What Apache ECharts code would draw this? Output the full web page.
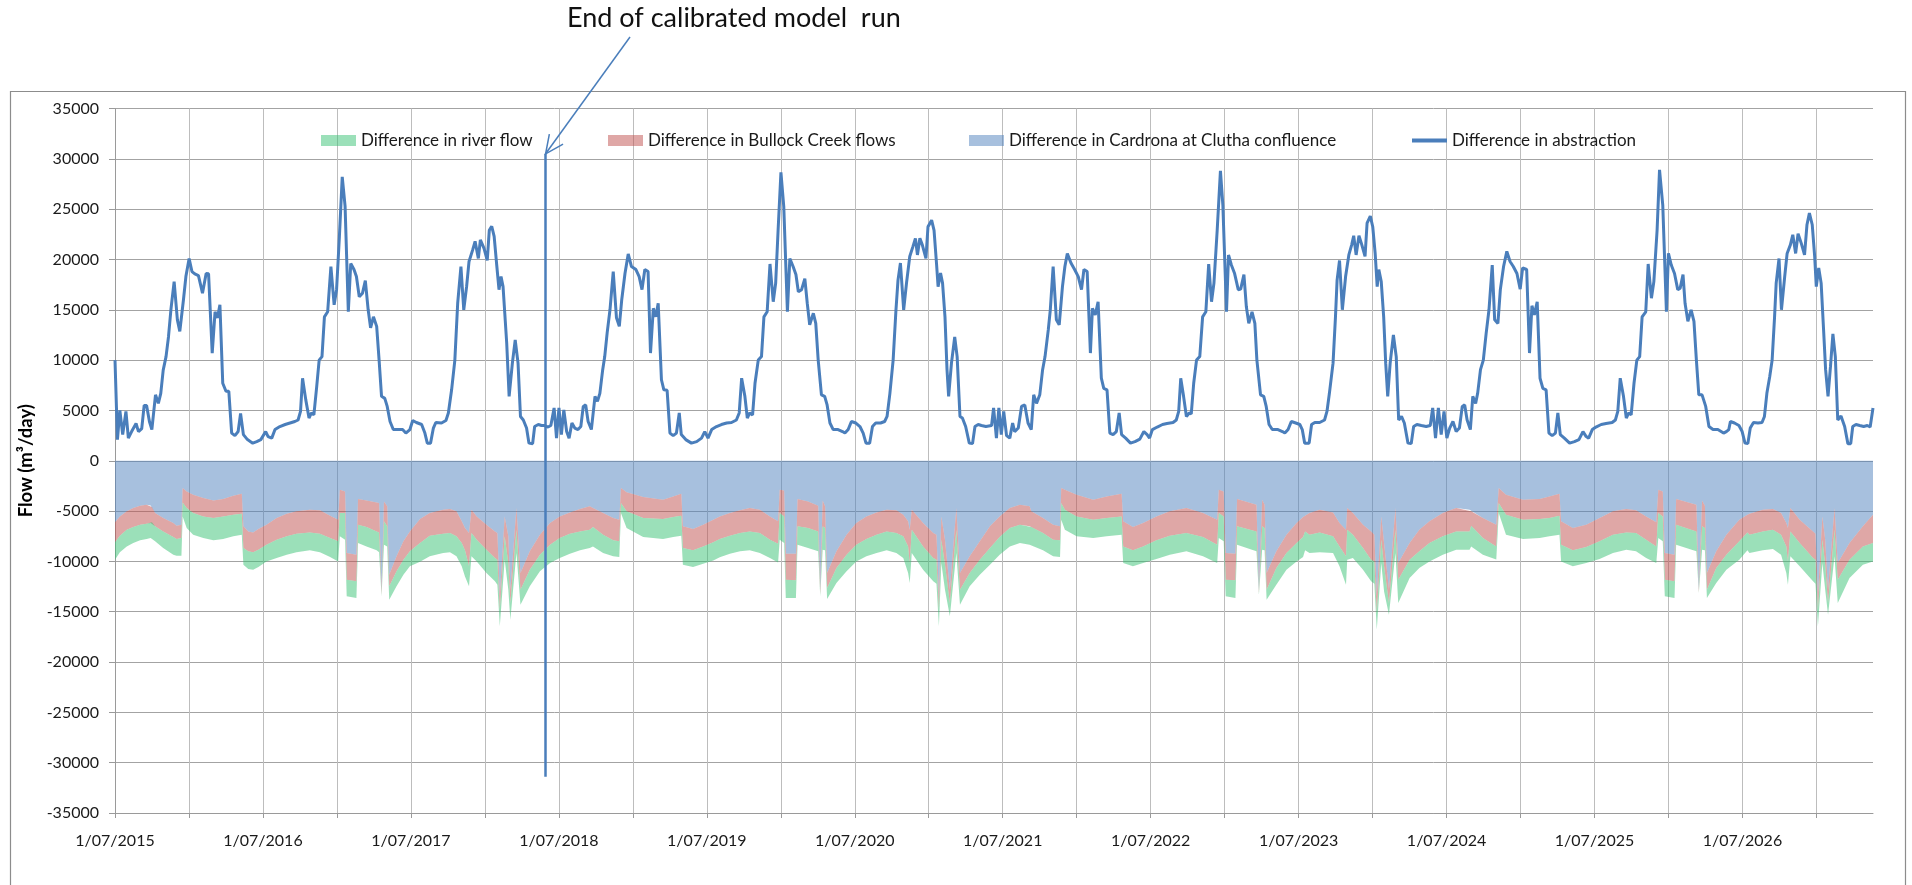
<!DOCTYPE html>
<html>
<head>
<meta charset="utf-8">
<title>Flow differences</title>
<script src="https://cdn.jsdelivr.net/npm/echarts@6/dist/echarts.min.js"></script>
<style>
  html, body { margin: 0; padding: 0; background: #fff; }
  #chart { width: 1912px; height: 885px; }
</style>
</head>
<body>
<div id="chart"></div>
<script>
// x values are days counted from 1/07/2015
const yearLabels = ['1/07/2015','1/07/2016','1/07/2017','1/07/2018','1/07/2019','1/07/2020',
  '1/07/2021','1/07/2022','1/07/2023','1/07/2024','1/07/2025','1/07/2026'];

const seriesNames = ['Difference in river flow', 'Difference in Bullock Creek flows',
  'Difference in Cardrona at Clutha confluence', 'Difference in abstraction'];

// Sample days shared by the three stacked flow series
const areaDays = [
  0,12,29,45,62,78,88,91,99,119,
  144,152,164,167,177,193,218,243,267,292,
  313,317,329,341,354,374,399,424,448,481,
  506,531,551,555,568,572,596,600,621,646,
  652,658,664,672,677,695,712,728,753,777,
  810,827,843,856,864,874,880,893,917,938,
  944,950,962,971,976,991,1001,1024,1049,1074,
  1098,1123,1148,1172,1180,1205,1230,1245,1249,1263,
  1304,1353,1378,1398,1402,1427,1452,1477,1493,1518,
  1543,1567,1592,1617,1637,1641,1652,1656,1681,1685,
  1711,1736,1741,1747,1753,1758,1781,1806,1830,1855,
  1880,1905,1929,1946,1958,1962,1967,1995,2020,2028,
  2034,2040,2049,2061,2077,2086,2110,2135,2160,2184,
  2209,2234,2258,2262,2291,2316,2333,2336,2345,2374,
  2415,2448,2485,2489,2513,2538,2571,2604,2645,2686,
  2721,2725,2737,2742,2766,2770,2818,2824,2832,2838,
  2843,2867,2892,2917,2933,2938,2949,2974,3007,3023,
  3039,3042,3056,3081,3101,3109,3115,3126,3133,3145,
  3161,3168,3196,3220,3245,3278,3311,3344,3348,3377,
  3410,3416,3434,3476,3517,3541,3566,3570,3599,3632,
  3665,3698,3731,3755,3780,3805,3810,3821,3826,3850,
  3854,3904,3910,3918,3925,3930,3953,3978,4010,4030,
  4035,4068,4093,4113,4126,4130,4136,4159,4192,4198,
  4204,4215,4222,4229,4245,4253,4282,4315,4340
];

// Difference in Cardrona at Clutha confluence (m3/day)
const cardrona = [
  -6120,-5530,-5030,-4700,-4470,-4370,-4440,-4600,-5200,-5690,
  -6190,-6450,-6360,-2710,-3050,-3380,-3710,-3940,-3810,-3480,
  -3280,-6520,-7020,-7120,-6790,-6360,-5690,-5260,-5030,-4870,
  -4930,-5460,-5860,-2880,-3050,-9170,-9330,-3810,-3940,-4140,
  -4200,-12810,-4040,-4530,-11320,-9500,-8010,-7020,-5790,-5200,
  -4870,-4800,-5030,-6020,-6690,-7180,-4870,-5530,-6360,-7020,
  -7180,-13470,-5530,-7510,-12810,-4700,-11150,-9000,-7350,-6190,
  -5530,-5130,-4800,-4530,-4700,-5200,-5690,-5860,-2710,-3140,
  -3610,-3870,-3540,-3280,-6520,-6790,-6360,-5860,-5530,-5200,
  -4930,-4700,-4870,-5530,-6020,-2880,-2950,-9230,-9230,-3810,
  -4040,-4470,-12810,-3940,-4530,-11150,-9000,-7350,-6190,-5530,
  -5130,-4870,-4930,-5360,-6020,-6850,-4870,-6190,-7180,-7350,
  -13470,-5530,-7840,-12810,-4700,-11150,-9500,-8010,-6520,-5530,
  -4700,-4370,-4530,-5030,-5690,-6360,-6520,-2710,-2880,-3380,
  -3870,-3540,-3280,-6020,-6590,-6190,-5530,-5030,-4700,-5200,
  -5860,-2880,-3050,-9170,-9230,-3810,-4370,-12810,-3870,-4370,
  -11150,-9000,-7350,-6190,-5590,-5460,-5200,-4870,-5130,-6190,
  -6850,-4700,-5200,-6360,-7020,-7350,-13470,-5530,-8180,-12810,
  -4700,-10160,-8180,-6850,-6020,-5200,-4700,-4870,-5030,-5690,
  -6360,-2710,-3380,-3870,-3810,-3540,-3280,-6020,-6690,-6360,
  -5690,-5030,-4800,-4930,-5530,-6120,-2880,-3050,-9170,-9330,
  -3810,-4370,-12810,-3940,-4470,-11150,-9000,-7350,-5860,-5360,
  -5260,-4870,-4800,-5200,-6190,-6690,-4700,-5860,-7020,-7250,
  -13470,-5530,-7840,-12810,-4700,-10160,-8180,-6520,-5360
];

// Difference in Bullock Creek flows (m3/day)
const bullock = [
  -1990,-1920,-1820,-1890,-1890,-1890,-1750,-1500,-1320,-1330,
  -1390,-1330,-1320,-1430,-1650,-1820,-1820,-1750,-1720,-1880,
  -1980,-2150,-1980,-1980,-2050,-1980,-2150,-2250,-2220,-2250,
  -2320,-2220,-2150,-2320,-2150,-2650,-2650,-2550,-2650,-2880,
  -2920,-500,-1980,-1990,-1160,-1490,-1820,-1980,-2390,-2250,
  -2380,-2380,-2480,-2160,-2210,-3310,-2310,-2310,-2480,-2650,
  -2650,-1330,-1980,-2650,-1320,-2150,-1660,-1820,-1980,-2150,
  -2150,-2120,-2220,-2320,-1890,-2150,-2220,-2150,-1490,-1890,
  -2080,-1920,-2050,-2180,-2150,-2110,-2150,-2250,-2250,-2250,
  -2250,-2320,-2310,-2310,-2220,-2320,-2580,-2590,-2650,-2710,
  -2650,-2550,-500,-2580,-2160,-1490,-1660,-1980,-2150,-2250,
  -2220,-2150,-2250,-2150,-2490,-3310,-1980,-2320,-2490,-2480,
  -1330,-2310,-2490,-1320,-2150,-1660,-1650,-1820,-2150,-2050,
  -1990,-1990,-1990,-1560,-1490,-1480,-1390,-1490,-1990,-2150,
  -1990,-2150,-2250,-2490,-2310,-2320,-2380,-2420,-2480,-2380,
  -2480,-2320,-2480,-2650,-2650,-2710,-2650,-330,-2650,-2320,
  -1660,-1660,-1820,-1990,-1990,-1560,-2150,-2250,-2380,-2320,
  -2650,-2150,-2150,-2310,-2810,-2650,-1660,-2310,-2310,-1320,
  -2150,-1660,-1650,-2150,-2160,-2310,-2320,-2150,-1420,-1990,
  -2150,-1490,-1980,-1990,-1980,-2150,-2180,-2320,-2210,-2210,
  -2320,-2320,-2320,-2250,-2310,-2390,-2320,-2480,-2650,-2650,
  -2550,-2650,-270,-2580,-2220,-1660,-1660,-1980,-2150,-1760,
  -2090,-2150,-2050,-2150,-2320,-3310,-2320,-2320,-2650,-2580,
  -1330,-2310,-2490,-1320,-2150,-1660,-1650,-1990,-2820
];

// Difference in river flow (m3/day)
const riverFlow = [
  -1720,-1650,-1660,-1590,-1550,-1520,-1490,-1500,-1490,-1650,
  -1750,-1650,-1750,-1390,-1990,-2150,-2150,-2220,-2250,-2150,
  -2090,-1660,-1760,-1720,-1720,-1660,-1830,-1820,-1850,-1780,
  -1850,-1890,-1990,-2310,-2640,-1650,-1660,-1820,-1920,-1880,
  -1980,-160,-2320,-1990,-1320,-1490,-1490,-1490,-1850,-2050,
  -1920,-1920,-1990,-2310,-2590,-1990,-2320,-2160,-2310,-2310,
  -2480,-1650,-2320,-2650,-1660,-2320,-1490,-1660,-1660,-1820,
  -1990,-1980,-1880,-1820,-1920,-1820,-1590,-1560,-1000,-1660,
  -1890,-1990,-1990,-1990,-1660,-1660,-1720,-1790,-1820,-1780,
  -1820,-1880,-1990,-1830,-1860,-2640,-2650,-1820,-1760,-1820,
  -1980,-1980,-160,-2320,-2210,-1100,-1490,-1660,-1660,-1720,
  -1820,-1880,-1990,-2160,-2640,-1990,-2320,-2310,-2310,-2390,
  -1650,-2320,-2480,-1330,-2320,-1490,-1330,-1490,-1660,-1750,
  -1820,-1820,-1820,-1920,-1720,-1660,-1660,-1660,-1980,-1980,
  -1820,-1820,-1820,-1650,-1590,-1650,-1850,-1880,-1820,-1920,
  -1820,-2480,-2480,-1650,-1760,-1820,-1980,-170,-2320,-2210,
  -990,-1650,-1650,-1820,-1990,-1880,-1820,-1980,-1660,-1980,
  -2810,-2980,-2320,-2150,-2150,-2220,-1650,-2320,-2490,-1160,
  -2320,-2310,-1820,-1660,-1820,-1820,-1820,-1820,-2060,-1650,
  -1300,-1000,-1990,-1920,-1890,-1820,-1890,-1660,-1590,-1590,
  -1750,-1820,-1720,-1820,-1830,-1650,-2480,-2480,-1650,-1660,
  -1980,-1980,-60,-2320,-2210,-830,-1490,-1490,-1820,-1780,
  -1820,-1880,-1920,-1980,-2640,-2310,-2480,-2310,-2310,-2390,
  -1650,-2320,-2480,-1160,-2650,-2310,-1820,-1820,-1820
];

// Difference in abstraction (m3/day): [day, value]
const abstraction = [
  [0,10000],[6,2100],[12,5000],[19,2600],[27,4900],[33,2250],[41,2900],[52,3700],[58,2900],[66,3200],
  [72,5500],[78,5500],[85,3900],[91,3100],[100,6550],[107,5700],[113,6700],[119,9000],[126,10350],[132,12300],
  [138,15000],[146,17800],[154,14000],[160,12850],[169,16000],[175,18300],[183,20100],[190,18800],[197,18570],[206,18400],
  [216,16650],[225,18600],[231,18570],[240,10700],[247,14800],[253,14200],[259,15500],[266,7700],[274,6900],[281,6900],
  [288,2750],[296,2500],[304,2900],[310,4700],[317,2600],[327,2100],[340,1750],[350,1900],[360,2100],[372,2900],
  [378,2400],[387,2250],[395,3100],[407,3400],[420,3600],[432,3750],[444,3900],[452,4050],[458,4900],[463,8200],
  [471,6050],[479,4250],[485,4750],[491,4550],[498,7400],[504,10000],[511,10350],[517,14300],[525,14800],[533,19300],
  [541,15500],[547,17000],[554,22300],[561,28200],[568,25300],[576,14800],[582,19600],[590,19000],[596,18300],[603,16300],
  [611,16650],[618,17900],[625,15000],[631,13200],[638,14300],[646,13350],[652,10000],[658,6400],[666,6200],[672,5400],
  [679,3900],[687,3100],[699,3100],[710,3100],[718,2750],[728,3100],[735,4000],[744,3800],[757,3600],[765,2750],
  [771,1750],[779,1750],[786,3250],[792,3800],[806,3750],[817,4000],[823,4750],[831,7050],[839,10000],[846,15650],
  [854,19300],[861,15000],[868,17300],[874,19800],[883,20950],[889,21800],[897,20100],[902,21950],[911,21100],[919,19900],
  [924,22900],[930,23300],[936,22300],[942,19600],[948,17000],[953,18300],[958,17300],[967,11700],[973,6400],[981,9700],
  [988,12000],[995,9700],[1001,4400],[1008,4050],[1016,3250],[1022,1750],[1031,1700],[1036,3400],[1045,3600],[1053,3500],
  [1061,3500],[1069,3350],[1076,3500],[1084,5250],[1090,2250],[1096,5250],[1102,2600],[1108,5050],[1115,2900],[1121,2250],
  [1128,3750],[1135,3250],[1143,3100],[1150,3400],[1156,5400],[1162,5550],[1168,3900],[1176,3100],[1185,6400],[1191,5900],
  [1197,6700],[1204,9050],[1209,10350],[1215,12700],[1222,15000],[1230,18800],[1238,14200],[1245,13350],[1251,16000],[1259,18600],
  [1267,20550],[1275,19300],[1286,19000],[1294,18300],[1301,17000],[1308,19000],[1316,18800],[1322,10700],[1329,15150],[1335,14300],
  [1341,15650],[1349,8050],[1355,7050],[1363,7000],[1370,2750],[1378,2500],[1386,2750],[1393,4750],[1398,2600],[1409,2100],
  [1423,1750],[1436,1900],[1448,2250],[1456,2900],[1464,2250],[1473,3100],[1485,3400],[1497,3600],[1510,3750],[1522,3800],
  [1534,4050],[1541,4750],[1547,8200],[1555,6400],[1561,4250],[1567,4750],[1574,4550],[1580,7700],[1588,10000],[1596,10350],
  [1602,14300],[1610,14800],[1617,19550],[1625,15800],[1631,17650],[1637,22900],[1644,28650],[1651,25250],[1660,14800],[1666,20100],
  [1674,19300],[1681,18500],[1687,16800],[1695,17000],[1703,18100],[1709,15650],[1715,13500],[1724,14650],[1730,13650],[1736,10000],
  [1744,6550],[1752,6400],[1758,5550],[1765,3750],[1773,3100],[1785,3100],[1796,2900],[1802,2750],[1810,3100],[1818,3900],
  [1829,3750],[1839,3400],[1847,2750],[1854,1750],[1863,1750],[1870,3400],[1878,3750],[1890,3750],[1900,3900],[1906,4400],
  [1913,6700],[1921,10000],[1928,15000],[1933,17950],[1939,19650],[1947,15000],[1954,17650],[1962,20300],[1970,21300],[1976,22100],
  [1981,20450],[1987,22100],[1993,21450],[2002,20100],[2007,23250],[2016,23900],[2022,22900],[2028,19650],[2032,17300],[2038,18650],
  [2043,17650],[2049,14300],[2054,9050],[2058,6400],[2065,9700],[2073,12300],[2079,10350],[2086,4400],[2092,4250],[2100,3400],
  [2109,1750],[2117,1700],[2123,3400],[2131,3600],[2139,3500],[2150,3400],[2164,3500],[2169,5250],[2176,2250],[2182,5250],
  [2188,2600],[2194,4900],[2201,2500],[2209,2250],[2216,3750],[2221,2900],[2230,3250],[2238,5400],[2246,5550],[2254,3750],
  [2262,3100],[2268,6550],[2275,5700],[2283,6550],[2290,9050],[2296,10350],[2304,13000],[2309,15000],[2316,19300],[2324,14000],
  [2331,13500],[2339,17300],[2345,19300],[2351,20600],[2360,19650],[2369,19000],[2378,18300],[2386,17000],[2392,19000],[2400,18800],
  [2408,10700],[2413,15150],[2420,14500],[2427,15800],[2435,8200],[2441,7200],[2449,7050],[2456,2750],[2464,2600],[2472,2900],
  [2479,4750],[2485,2600],[2495,2250],[2507,1750],[2518,1900],[2530,2150],[2540,2900],[2548,2600],[2554,2250],[2561,3100],
  [2573,3350],[2586,3600],[2597,3700],[2612,3800],[2620,4050],[2626,4900],[2631,8200],[2638,6400],[2645,4400],[2652,4750],
  [2657,4650],[2663,7700],[2670,10000],[2678,10350],[2685,14300],[2693,14800],[2700,19550],[2707,15800],[2713,17650],[2721,22900],
  [2729,28800],[2735,25400],[2744,14800],[2749,20450],[2756,19450],[2764,18600],[2773,17000],[2779,17050],[2787,18500],[2793,15300],
  [2799,13650],[2807,14800],[2814,13650],[2819,10000],[2828,6550],[2836,6400],[2842,5400],[2849,3600],[2857,3100],[2871,3100],
  [2882,2900],[2888,2750],[2896,3100],[2904,3900],[2915,3750],[2925,3600],[2931,3100],[2937,1750],[2948,1750],[2954,3600],
  [2962,3800],[2974,3800],[2986,4050],[2992,4900],[2998,6700],[3007,9700],[3013,14300],[3017,17950],[3023,19900],[3030,15000],
  [3038,18300],[3046,20450],[3053,21450],[3058,22350],[3064,20450],[3071,22350],[3077,21600],[3086,20300],[3091,23600],[3099,24300],
  [3105,23250],[3111,20600],[3116,17300],[3120,19000],[3126,17800],[3132,14300],[3137,9700],[3142,6400],[3148,9700],[3156,12500],
  [3163,10350],[3169,4050],[3176,4400],[3183,3750],[3192,1750],[3200,1700],[3206,3400],[3214,3600],[3225,3500],[3237,3400],
  [3247,3500],[3253,5250],[3260,2250],[3267,5250],[3274,2600],[3281,4900],[3288,2250],[3295,3250],[3303,3900],[3311,2900],
  [3319,3250],[3326,5400],[3332,5550],[3338,4050],[3346,3100],[3352,6400],[3359,5700],[3364,6700],[3371,9050],[3378,10000],
  [3385,12650],[3392,15000],[3400,19450],[3406,14000],[3414,13650],[3420,17000],[3428,19300],[3436,20800],[3444,19800],[3452,19300],
  [3461,18600],[3469,17050],[3475,19150],[3485,19000],[3492,10700],[3498,15400],[3504,14500],[3511,15800],[3518,8200],[3525,7200],
  [3533,7050],[3540,2750],[3548,2500],[3556,2750],[3562,4750],[3568,2600],[3578,2250],[3591,1750],[3603,1900],[3614,2100],
  [3624,2900],[3632,2400],[3638,2250],[3647,3100],[3656,3350],[3669,3600],[3681,3700],[3696,3800],[3704,4050],[3710,4900],
  [3716,8200],[3724,6400],[3731,4250],[3737,4750],[3743,4550],[3750,7700],[3757,10000],[3764,10350],[3770,14300],[3779,14800],
  [3785,19550],[3793,16150],[3799,17800],[3807,22900],[3813,28900],[3821,25400],[3830,14800],[3835,20600],[3842,19450],[3850,18600],
  [3858,17000],[3864,17150],[3871,18500],[3876,15650],[3883,13850],[3891,15000],[3898,13850],[3904,10000],[3910,6550],[3918,6550],
  [3927,5400],[3935,3400],[3945,3100],[3957,3100],[3965,2900],[3971,2750],[3978,2900],[3984,3100],[3988,3900],[3998,3750],
  [4009,3500],[4017,2900],[4024,1750],[4031,1700],[4037,3250],[4045,3800],[4056,3750],[4066,3800],[4072,4400],[4078,6700],
  [4085,8350],[4091,10000],[4097,14300],[4101,17650],[4108,20100],[4114,15000],[4122,18300],[4128,20600],[4136,21450],[4142,22450],
  [4149,20600],[4155,22550],[4163,21600],[4171,20450],[4177,23450],[4183,24600],[4190,23450],[4196,20300],[4200,17300],[4206,19150],
  [4212,17650],[4218,13000],[4223,9050],[4229,6400],[4235,9350],[4241,12600],[4247,10350],[4253,4050],[4261,4450],[4270,3400],
  [4278,1700],[4285,1700],[4290,3400],[4298,3600],[4307,3500],[4317,3400],[4326,3500],[4333,3350],[4340,5250]
];

// End of the calibrated model run, marked by a vertical line
const calibEndDay = 1063;
const calibLineTop = 30500;
const calibLineBottom = -31400;
const annotationText = 'End of calibrated model  run';

const HALF_YEAR = 365.25 / 2;
const X_MAX = 4340;
const FONT = 'Lato, "Open Sans", "DejaVu Sans", sans-serif';
const LINE_BLUE = '#4A7EBB';
const FILL_BLUE = 'rgba(79,129,189,0.5)';
const FILL_RED = 'rgba(192,80,77,0.5)';
const FILL_GREEN = 'rgba(55,193,115,0.5)';

// The flow value goes in the first dimension so that it is the one stacked;
// encode maps it to y and the day to x.
const stackPairs = (vals) => areaDays.map((d, i) => [vals[i], d]);

function areaSeries(name, vals, fill) {
  return {
    name, type: 'line', stack: 'flows', data: stackPairs(vals),
    encode: { x: 1, y: 0 },
    symbol: 'none', smooth: false, z: 2,
    lineStyle: { width: 0, opacity: 0 },
    itemStyle: { color: fill },
    areaStyle: { color: fill, opacity: 1 },
    emphasis: { disabled: true }
  };
}

function legendBox(name, left, fill, h) {
  return {
    left, top: 132, padding: 0, itemWidth: 35, itemHeight: h, itemGap: 0,
    icon: 'rect', selectedMode: false,
    textStyle: { fontFamily: FONT, fontSize: 17, color: '#1a1a1a' },
    data: [{ name, itemStyle: { color: fill, borderWidth: 0 } }]
  };
}

const chart = echarts.init(document.getElementById('chart'), null, { renderer: 'canvas' });

chart.setOption({
  animation: false,
  backgroundColor: '#ffffff',
  textStyle: { fontFamily: FONT },
  grid: { left: 115, right: 39, top: 108.5, bottom: 72, containLabel: false, outerBoundsMode: 'none' },
  legend: [
    legendBox(seriesNames[0], 321, FILL_GREEN, 11),
    legendBox(seriesNames[1], 608, FILL_RED, 11),
    legendBox(seriesNames[2], 969, FILL_BLUE, 11),
    legendBox(seriesNames[3], 1412, LINE_BLUE, 4)
  ],
  xAxis: {
    type: 'value', min: 0, max: X_MAX, interval: HALF_YEAR,
    axisLine: { onZero: false, lineStyle: { color: '#9a9a9a', width: 1 } },
    axisTick: { show: true, length: 5, lineStyle: { color: '#9a9a9a' } },
    axisLabel: {
      margin: 20, fontSize: 16, color: '#1a1a1a', fontFamily: FONT,
      showMaxLabel: false,
      formatter: function (v) {
        const k = Math.round(v / HALF_YEAR);
        if (Math.abs(v - k * HALF_YEAR) > 0.01 || k % 2 !== 0) return '';
        return yearLabels[k / 2] || '';
      }
    },
    splitLine: { show: true, showMaxLine: false, lineStyle: { color: '#bdbdbd', width: 1 } }
  },
  yAxis: {
    type: 'value', min: -35000, max: 35000, interval: 5000,
    name: 'Flow (m³/day)', nameLocation: 'middle', nameGap: 73, nameRotate: 90,
    nameTextStyle: { fontFamily: FONT, fontWeight: 'bold', fontSize: 18.5, color: '#000' },
    axisLine: { show: true, lineStyle: { color: '#9a9a9a', width: 1 } },
    axisTick: { show: true, length: 6, lineStyle: { color: '#9a9a9a' } },
    axisLabel: { margin: 16, fontSize: 16, color: '#1a1a1a', fontFamily: FONT, formatter: (v) => String(v) },
    splitLine: { show: true, lineStyle: { color: '#a3a3a3', width: 1 } }
  },
  series: [
    areaSeries(seriesNames[2], cardrona, FILL_BLUE),
    areaSeries(seriesNames[1], bullock, FILL_RED),
    areaSeries(seriesNames[0], riverFlow, FILL_GREEN),
    {
      name: seriesNames[3], type: 'line', data: abstraction, symbol: 'none', smooth: false, z: 5,
      lineStyle: { color: LINE_BLUE, width: 3 }, itemStyle: { color: LINE_BLUE },
      emphasis: { disabled: true },
      markLine: {
        silent: true, symbol: ['none', 'none'], label: { show: false },
        lineStyle: { color: LINE_BLUE, width: 2.5, type: 'solid' },
        emphasis: { disabled: true },
        data: [[{ coord: [calibEndDay, calibLineTop] }, { coord: [calibEndDay, calibLineBottom] }]]
      }
    }
  ]
});

// Annotation: title text, arrow pointing at the top of the calibration line, chart frame
const tip = chart.convertToPixel({ gridIndex: 0 }, [calibEndDay, calibLineTop]);
const tail = [630, 37];
const dx = tail[0] - tip[0], dy = tail[1] - tip[1];
const len = Math.hypot(dx, dy);
const ux = dx / len, uy = dy / len;
const headLen = 20, headAng = 25 * Math.PI / 180;
const barb = (a) => [tip[0] + headLen * (ux * Math.cos(a) - uy * Math.sin(a)),
                     tip[1] + headLen * (ux * Math.sin(a) + uy * Math.cos(a))];

chart.setOption({
  graphic: {
    elements: [
      {
        id: 'frame', type: 'rect', silent: true, z: 0,
        shape: { x: 10.5, y: 91.5, width: 1895, height: 830 },
        style: { fill: 'none', stroke: '#8c8c8c', lineWidth: 1.2 }
      },
      {
        id: 'note', type: 'text', silent: true, left: 567, top: 5,
        style: { text: annotationText, fontFamily: FONT, fontSize: 27, fill: '#111' }
      },
      {
        id: 'arrowShaft', type: 'polyline', silent: true, z: 10,
        shape: { points: [tail, tip] },
        style: { stroke: LINE_BLUE, lineWidth: 1.5, fill: null }
      },
      {
        id: 'arrowHead', type: 'polyline', silent: true, z: 10,
        shape: { points: [barb(headAng), tip, barb(-headAng)] },
        style: { stroke: LINE_BLUE, lineWidth: 1.5, fill: null }
      }
    ]
  }
});
</script>
</body>
</html>
